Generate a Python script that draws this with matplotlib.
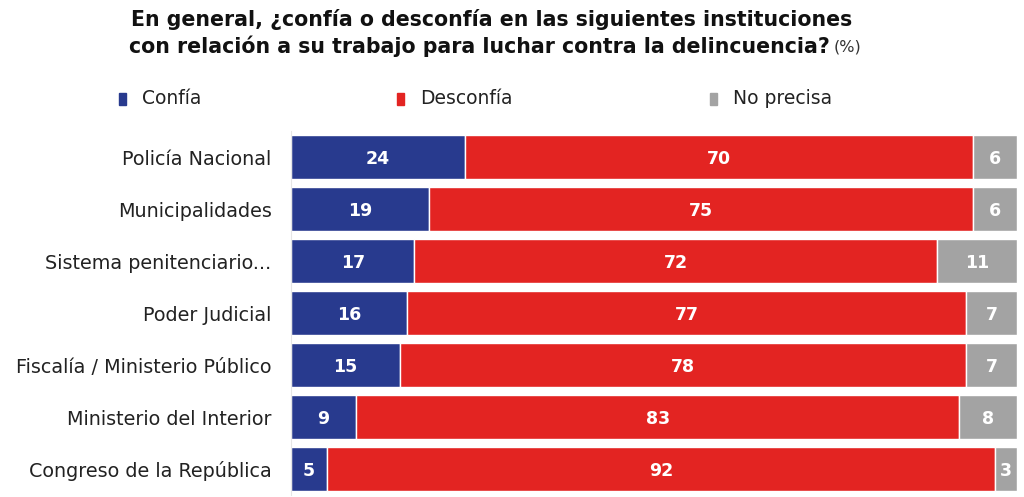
import matplotlib.pyplot as plt
import numpy as np

plt.rcParams['font.family'] = ['Liberation Sans Narrow', 'DejaVu Sans']

categories = ["Policía Nacional", "Municipalidades", "Sistema penitenciario...",
              "Poder Judicial", "Fiscalía / Ministerio Público",
              "Ministerio del Interior", "Congreso de la República"]
confia = [24, 19, 17, 16, 15, 9, 5]
desconfia = [70, 75, 72, 77, 78, 83, 92]
no_precisa = [6, 6, 11, 7, 7, 8, 3]
series_names = ["Confía", "Desconfía", "No precisa"]
colors = ["#283a8e", "#e32422", "#a3a3a3"]

fig = plt.figure(figsize=(10.24, 4.97), dpi=100)
ax = fig.add_axes([291 / 1024, 1 - 495 / 497, (1017 - 291) / 1024, (495 - 131) / 497])

y = np.arange(len(categories))
left = np.zeros(len(categories))
for vals, col in zip([confia, desconfia, no_precisa], colors):
    vals = np.array(vals, dtype=float)
    ax.barh(y, vals, left=left, height=0.85, color=col, edgecolor="white", linewidth=1)
    for yi, l, v in zip(y, left, vals):
        ax.text(l + v / 2, yi + 0.03, str(int(v)), ha="center", va="center",
                color="white", fontsize=12.5, fontweight="bold")
    left += vals

ax.set_xlim(0, 100)
ax.set_ylim(len(categories) - 0.5, -0.5)
ax.set_yticks(y)
ax.set_yticklabels(categories, fontsize=13.8, color="#222222")
ax.tick_params(axis="y", length=0, pad=14)
ax.set_xticks([])
for s in ["top", "right", "bottom"]:
    ax.spines[s].set_visible(False)
ax.spines["left"].set_color("#e6e6e6")

# title
fig.text(492 / 1024, 1 - 20 / 497, "En general, ¿confía o desconfía en las siguientes instituciones",
         ha="center", va="center", fontsize=14.8, fontweight="bold", color="#111111")
t2 = fig.text(479 / 1024, 1 - 46 / 497, "con relación a su trabajo para luchar contra la delincuencia?",
              ha="center", va="center", fontsize=14.8, fontweight="bold", color="#111111")
fig.canvas.draw()
bb = t2.get_window_extent()
fig.text((bb.x1 + 4) / 1024, 1 - 47 / 497, "(%)", ha="left", va="center",
         fontsize=11.5, color="#333333")

# legend
leg_x = [122, 400, 713]
for lx, name, col in zip(leg_x, series_names, colors):
    fig.patches.append(plt.Rectangle(((lx - 3) / 1024, 1 - 105 / 497), 7 / 1024, 12 / 497,
                                     transform=fig.transFigure, color=col))
    fig.text((lx + 20) / 1024, 1 - 99 / 497, name, ha="left", va="center",
             fontsize=13.5, color="#222222")

fig.savefig("out.png", dpi=100)
